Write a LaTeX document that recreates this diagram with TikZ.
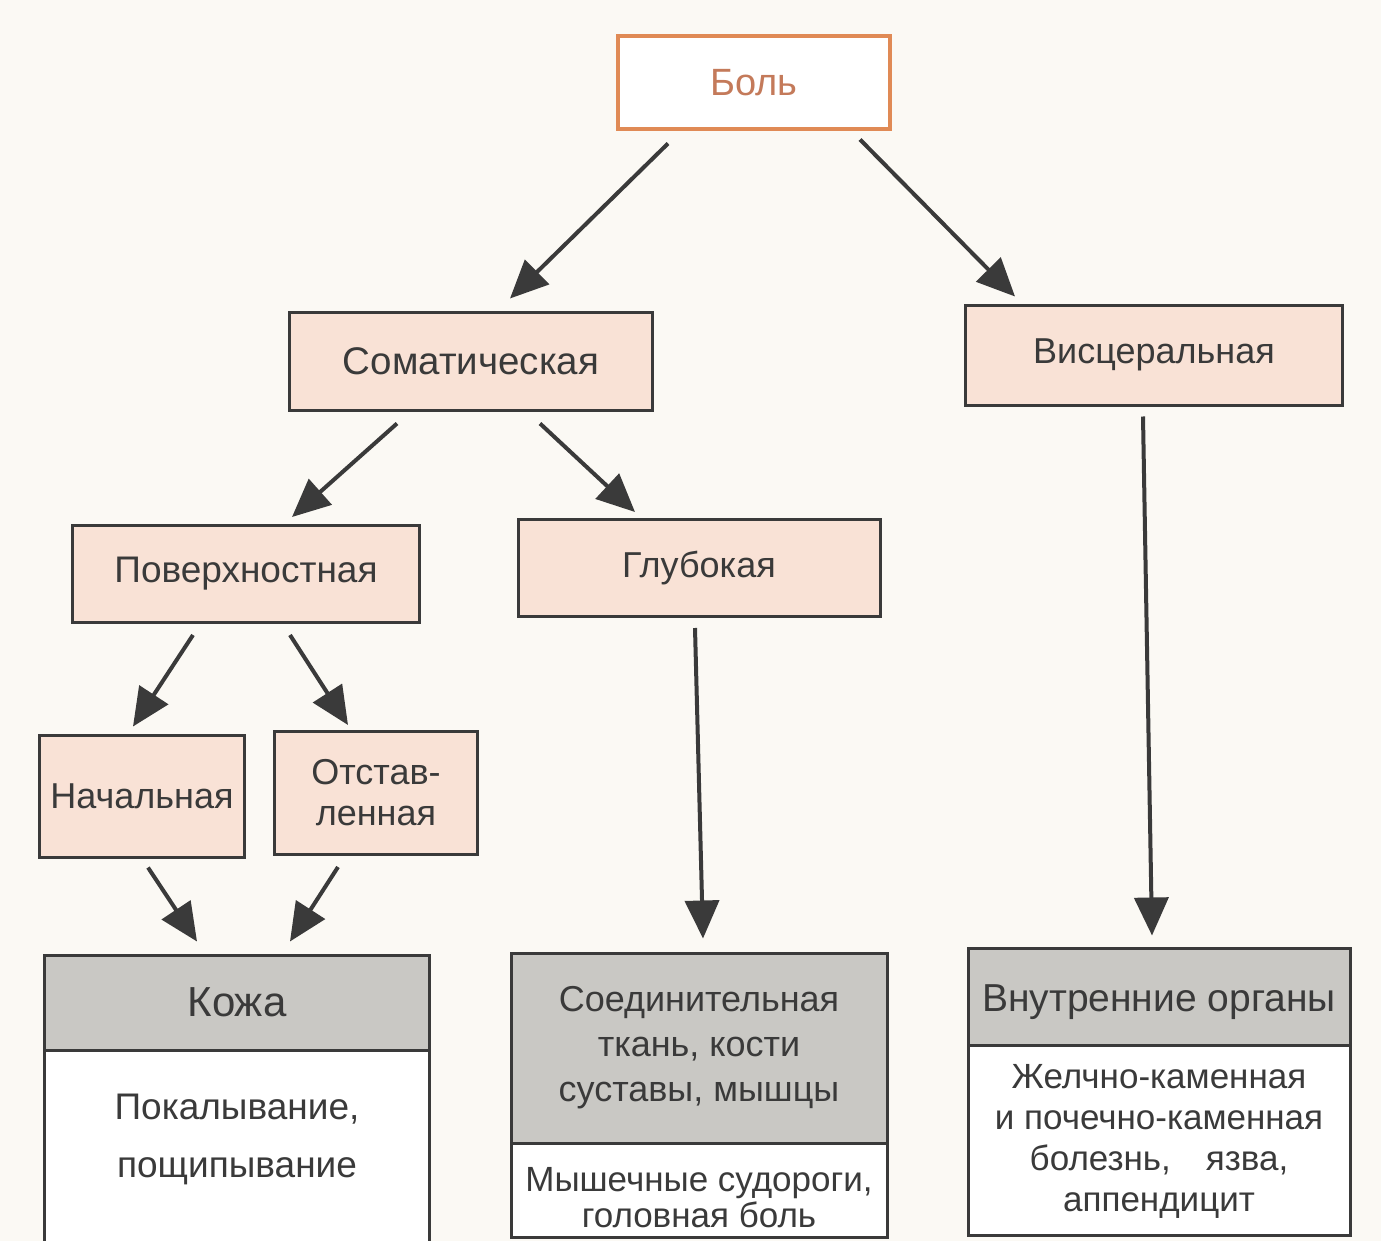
\documentclass[tikz,border=0pt]{standalone}
\usepackage{fontspec}
\setmainfont{Liberation Sans}
\usetikzlibrary{arrows.meta,calc}
\definecolor{bg}{HTML}{FBF9F4}
\definecolor{pinkfill}{HTML}{F9E2D6}
\definecolor{grayfill}{HTML}{C9C8C4}
\definecolor{ink}{HTML}{3A3A3A}
\definecolor{boltext}{HTML}{C47A5A}
\definecolor{bolline}{HTML}{E08A55}
\tikzset{
  box/.style={draw=ink, line width=3pt, fill=pinkfill, text=ink, align=center, inner sep=0pt,
    font=\fontsize{36}{41}\selectfont},
  topbox/.style={draw=bolline, line width=4pt, fill=white, text=boltext, align=center, inner sep=0pt,
    font=\fontsize{38}{41}\selectfont},
  head/.style={draw=ink, line width=3pt, fill=grayfill, text=ink, align=center, inner sep=0pt,
    font=\fontsize{36}{45}\selectfont},
  body/.style={draw=ink, line width=3pt, fill=white, text=ink, align=center, inner sep=0pt,
    font=\fontsize{35}{41}\selectfont},
  lab/.style={text=ink, align=center, inner sep=0pt}
}
\tikzset{arr/.style={draw=ink, line width=4pt, -{Triangle[length=38pt,width=34pt]}}}
\begin{document}
\begin{tikzpicture}[x=1pt,y=-1pt]
\fill[bg] (0,0) rectangle (1381,1241);
\useasboundingbox (0,0) rectangle (1381,1241);
\begin{scope}
\clip (0,0) rectangle (1381,1241);
\node[topbox, minimum width=272pt, minimum height=93pt] (bol) at (754,83) {Боль};
\node[box, minimum width=363pt, minimum height=98pt, font=\fontsize{38.5}{41}\selectfont] (som) at (471,361) {Соматическая};
\node[box, minimum width=377pt, minimum height=100pt] (visc) at (1154,355) {Висцеральная};
\node[box, minimum width=347pt, minimum height=97pt, font=\fontsize{37}{41}\selectfont] (pov) at (246,574) {Поверхностная};
\node[box, minimum width=362pt, minimum height=97pt] (glub) at (699,568) {Глубокая};
\node[box, minimum width=205pt, minimum height=122pt] (nach) at (142,796) {Начальная};
\node[box, minimum width=203pt, minimum height=123pt] (otst) at (376,793) {Отстав-\\ленная};
% bottom boxes
\node[body, minimum width=385pt, minimum height=210pt,
  label={[lab, yshift=16pt, font=\fontsize{37}{58}\selectfont]center:Покалывание,\\пощипывание}] (kozhab) at (237,1155) {};
\node[head, minimum width=385pt, minimum height=95pt, font=\fontsize{42}{45}\selectfont] (kozha) at (237,1002.5) {Кожа};
\node[body, minimum width=376pt, minimum height=94pt,
  label={[lab, yshift=-8pt, font=\fontsize{35}{36}\selectfont]center:Мышечные судороги,\\головная боль}] (soedb) at (699,1190) {};
\node[head, minimum width=376pt, minimum height=190pt] (soed) at (699,1048) {Соединительная\\ткань, кости\\суставы, мышцы};
\node[body, minimum width=382pt, minimum height=190pt,
  label={[lab, yshift=-1pt, font=\fontsize{35}{41}\selectfont]center:Желчно-каменная\\и почечно-каменная\\болезнь,\quad язва,\\аппендицит}] (vnutb) at (1159,1140) {};
\node[head, minimum width=382pt, minimum height=97pt,
  label={[lab, yshift=-6pt, font=\fontsize{39}{45}\selectfont]center:Внутренние органы}] (vnut) at (1159,996.5) {};
\end{scope}
% arrows
\draw[arr] ($(bol.south)+(-86,12)$) -- ($(som.north)+(39,-12)$);
\draw[arr] ($(bol.south)+(106,8)$) -- ($(visc.north)+(-139,-7)$);
\draw[arr] ($(som.south)+(-74,12)$) -- ($(pov.north)+(46,-7)$);
\draw[arr] ($(som.south)+(69,12)$) -- ($(glub.north)+(-64,-6)$);
\draw[arr] ($(pov.south)+(-53,11)$) -- ($(nach.north)+(-9,-7)$);
\draw[arr] ($(pov.south)+(44,11)$) -- ($(otst.north)+(-28,-5)$);
\draw[arr] ($(glub.south)+(-4,10)$) -- ($(soed.north)+(4,-13)$);
\draw[arr] ($(visc.south)+(-11,10)$) -- ($(vnut.north)+(-7,-11)$);
\draw[arr] ($(nach.south)+(6,9)$) -- ($(kozha.north)+(-40,-12)$);
\draw[arr] ($(otst.south)+(-38,11)$) -- ($(kozha.north)+(53,-12)$);
\end{tikzpicture}
\end{document}
